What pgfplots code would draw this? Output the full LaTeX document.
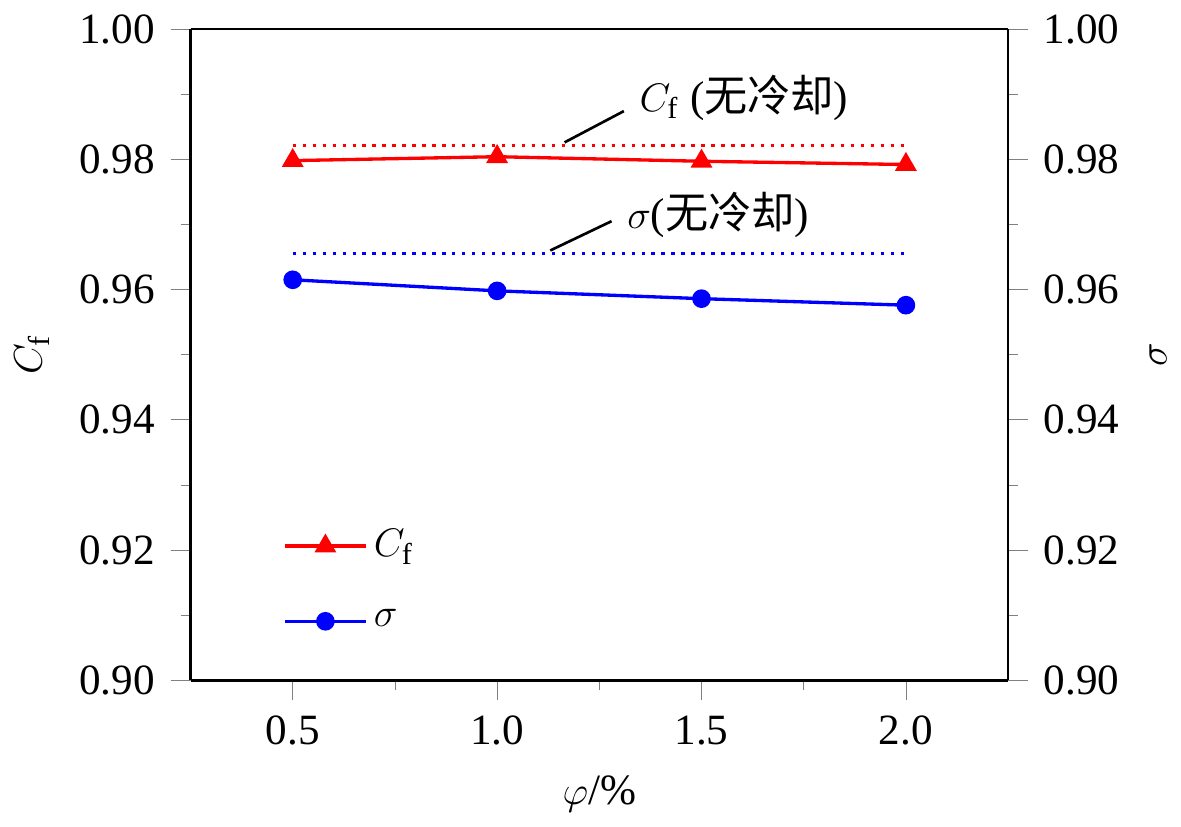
\documentclass[border=0pt]{standalone}
\usepackage{fontspec}
\setmainfont{Liberation Serif}
\newfontfamily\cjk{Noto Sans CJK SC}
\usepackage{pgfplots}
\pgfplotsset{compat=1.18}
\begin{document}
\fontsize{13}{15}\selectfont
\begin{tikzpicture}
\pgfplotsset{every axis/.append style={font=\fontsize{13}{15}\selectfont, line width=0.8pt},
 /pgf/number format/assume math mode=true}
\begin{axis}[scale only axis, width=8.65cm, height=6.89cm,
 xmin=0.25, xmax=2.25, ymin=0.90, ymax=1.00,
 xtick={0.5,1.0,1.5,2.0}, minor xtick={0.75,1.25,1.75},
 ytick={0.90,0.92,...,1.001}, minor ytick={0.91,0.93,...,0.995},
 xticklabel style={/pgf/number format/.cd,fixed,fixed zerofill,precision=1},
 yticklabel style={/pgf/number format/.cd,fixed,fixed zerofill,precision=2},
 tick align=outside, axis y line*=left, axis x line*=bottom,
 major tick length=6pt, minor tick length=3pt,
 xlabel={$\varphi$/\%}, ylabel={$C_{\mathrm{f}}$},
 legend style={at={(0.1,0.05)},anchor=south west,draw=none,fill=none,row sep=10pt},
 legend image post style={}, legend cell align=left, clip=false,
 legend image code/.code={\draw[#1] (0cm,0cm) -- (0.85cm,0cm); \draw[#1,only marks] plot coordinates {(0.425cm,0cm)};}]
\addplot[red, line width=1pt, mark=triangle*, mark size=2.8pt] coordinates {(0.5,0.9798)(1.0,0.9804)(1.5,0.9797)(2.0,0.9792)};
\addlegendentry{$C_{\mathrm{f}}$}
\addplot[blue, line width=1pt, mark=*, mark size=2.3pt] coordinates {(0.5,0.9615)(1.0,0.9598)(1.5,0.9586)(2.0,0.9576)};
\addlegendentry{$\sigma$}
\addplot[red, line width=1pt, dotted, forget plot] coordinates {(0.5,0.9821)(2.0,0.9821)};
\addplot[blue, line width=1pt, dotted, forget plot] coordinates {(0.5,0.9655)(2.0,0.9655)};
\draw[thick] (axis cs:1.165,0.9826) -- (axis cs:1.31,0.9874);
\node[anchor=west] at (axis cs:1.31,0.9895) {$C_{\mathrm{f}}$ ({\cjk 无冷却})};
\draw[thick] (axis cs:1.13,0.9660) -- (axis cs:1.28,0.9705);
\node[anchor=west] at (axis cs:1.28,0.9715) {$\sigma$({\cjk 无冷却})};
\draw (rel axis cs:0,1) -- (rel axis cs:1,1);
\end{axis}
\begin{axis}[scale only axis, width=8.65cm, height=6.89cm,
 xmin=0.25, xmax=2.25, ymin=0.90, ymax=1.00,
 axis y line*=right, axis x line=none,
 ytick={0.90,0.92,...,1.001}, minor ytick={0.91,0.93,...,0.995},
 yticklabel style={/pgf/number format/.cd,fixed,fixed zerofill,precision=2},
 tick align=outside, major tick length=6pt, minor tick length=3pt,
 ylabel={$\sigma$}]
\end{axis}
\end{tikzpicture}
\end{document}
